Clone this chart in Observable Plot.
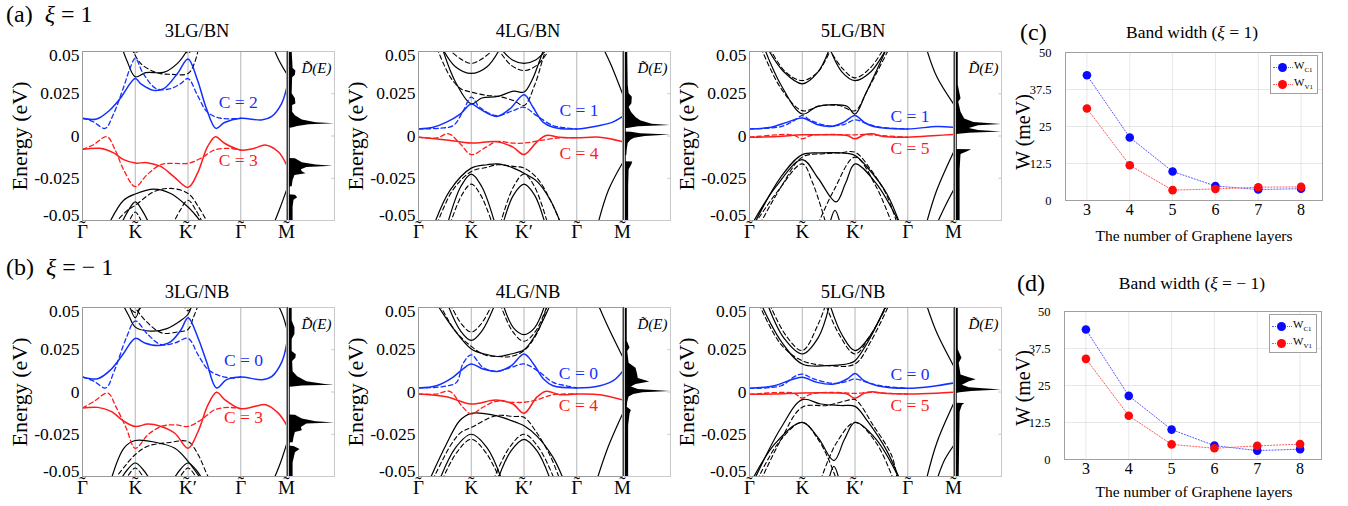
<!DOCTYPE html>
<html><head><meta charset="utf-8">
<script src="https://cdn.jsdelivr.net/npm/d3@7"></script>
<script src="https://cdn.jsdelivr.net/npm/@observablehq/plot@0.6"></script>
<style>
body{margin:0;background:#fff;font-family:"Liberation Serif","DejaVu Serif",serif;}
#fig{position:relative;width:1348px;height:506px;overflow:hidden;background:#fff;}
.abs{position:absolute;white-space:nowrap;line-height:1;color:#000;}
</style></head><body><div id="fig"></div>
<script>
// ---------------- DATA ----------------
// k-path positions and labels (each label carries a tilde line above the letter)
const kTicks = [0, 1, 2, 3, 3.866];
const kLabels = ["\u02DC\n\u0393", "\u02DC\nK", "\u02DC\u2009\nK\u2032", "\u02DC\n\u0393", "\u02DC\nM"];
const eTicks = [-0.05, -0.025, 0, 0.025, 0.05];

// ---- 3LG/BN (energies in meV, k along path) ----
const bn3Blue = [[0,10.5],[0.27,10.1],[0.52,15.4],[0.71,22],[1.0,34],[1.1,31],[1.35,27],[1.54,28],[1.8,37],[2.0,45.6],[2.18,33],[2.34,17],[2.53,4.5],[2.69,8],[3.0,10.5],[3.39,9.5],[3.58,11.4],[3.77,19],[3.866,28]];
const bn3BlueDash = [[0,10.5],[0.2,8.5],[0.43,4.5],[0.58,12.4],[0.78,29],[0.9,40],[1.0,46],[1.15,37],[1.4,28],[1.67,28],[1.86,31],[2.0,34],[2.18,24],[2.37,14],[2.62,10.5],[3.0,10.5]];
const bn3Red = [[0,-7.9],[0.33,-7.3],[0.59,-10],[0.78,-14],[1.0,-16],[1.22,-15.8],[1.48,-18],[1.73,-24],[2.0,-30.4],[2.18,-22],[2.37,-6.3],[2.52,-0.4],[2.69,-4.3],[3.0,-8.3],[3.26,-7.3],[3.46,-5.3],[3.71,-9.3],[3.866,-17]];
const bn3RedDash = [[0,-7.9],[0.2,-5.3],[0.46,-0.4],[0.62,-8.3],[0.78,-20],[1.0,-30],[1.22,-23],[1.48,-17],[1.73,-16.2],[2.0,-16.2],[2.24,-13.2],[2.5,-8.3],[2.75,-7.3],[3.0,-8.3]];
const bn3Black = [
  [[0.75,52],[0.85,44],[1.0,35],[1.2,37.5],[1.55,37.8],[1.8,43],[1.97,50],[2.05,55]],
  [[3.62,52],[3.72,45],[3.866,37]],
  [[0.5,-52],[0.78,-38],[1.0,-34.3],[1.35,-31.4],[1.67,-34],[2.0,-42],[2.12,-46],[2.3,-53]],
  [[0.72,-53],[0.87,-44],[1.0,-39],[1.13,-44],[1.28,-53]],
  [[3.65,-50],[3.75,-42],[3.866,-32]]
];
const bn3BlackDash = [
  [[0.93,52],[1.1,43],[1.4,37.5],[1.67,36.5],[2.0,37],[2.12,43],[2.2,52]],
  [[0.85,55],[1.0,49],[1.15,55]],
  [[1.85,55],[2.0,49],[2.15,55]],
  [[0.6,-52],[0.85,-44],[1.0,-41],[1.35,-33],[1.67,-31],[2.0,-34],[2.2,-42],[2.4,-53]],
  [[1.7,-53],[1.85,-44],[2.0,-38],[2.15,-44],[2.3,-53]],
  [[0.85,-53],[1.0,-45],[1.15,-53]]
];
const bn3Dos = [[50,0.08],[45,0.09],[40,0.1],[38.5,0.16],[36,0.15],[34.5,0.09],[25,0.08],[22,0.15],[19,0.16],[18,0.09],[14,0.09],[12,0.15],[9.5,0.3],[7.8,0.6],[7.2,1.0],[6.6,0.45],[5.6,0.2],[4.8,0.08],[4.6,0],[-13.3,0],[-13.5,0.15],[-15.8,0.3],[-17.2,0.6],[-17.9,0.97],[-18.6,0.4],[-20,0.28],[-21.2,0.3],[-22.4,0.38],[-23.4,0.14],[-26.4,0.1],[-30,0.08],[-30.2,0],[-34.8,0],[-35,0.15],[-36.5,0.2],[-38,0.12],[-42,0.1],[-50,0.1]];

// ---- 4LG/BN ----
const bn4Blue = [[0,4.2],[0.28,5.2],[0.53,8.2],[0.79,13],[1.0,19],[1.16,16],[1.48,11.5],[1.73,16],[2.0,24.4],[2.17,17],[2.36,8.2],[2.55,5.2],[3.0,4.2],[3.43,6.2],[3.68,8.2],[3.866,11.5]];
const bn4BlueDash = [[0,4.2],[0.41,4.6],[0.66,6.2],[0.85,15],[1.0,23],[1.16,17],[1.48,12],[1.79,15],[2.0,17],[2.24,12],[2.55,6.2],[2.8,4.8],[3.0,4.2]];
const bn4Red = [[0,-0.7],[0.53,-2.3],[1.0,-4.2],[1.48,-3.3],[1.79,-6.6],[2.0,-11],[2.24,-3.6],[2.42,0.3],[2.67,-0.7],[3.0,-1.1],[3.43,-0.7],[3.866,-3.3]];
const bn4RedDash = [[0,-0.7],[0.35,-1.1],[0.57,1.3],[0.79,-4.6],[1.0,-11],[1.28,-6.6],[1.48,-3.3],[1.79,-4.2],[2.0,-4.2],[2.3,-2.7],[2.67,-1.1],[3.0,-1.1]];
const bn4Black = [
  [[0.45,52],[0.7,32],[1.0,19],[1.2,22.5],[1.5,23.4],[1.8,26.5],[2.0,26],[2.15,33],[2.3,45],[2.38,52]],
  [[0.45,52],[0.7,41],[1.0,37],[1.3,41],[1.55,52]],
  [[1.55,52],[1.78,45],[2.0,43],[2.22,45],[2.45,52]],
  [[3.5,52],[3.65,42],[3.866,25]],
  [[0.3,-52],[0.6,-32],[1.0,-19],[1.3,-17],[1.5,-16.5],[1.8,-19],[2.0,-22],[2.25,-27],[2.5,-38],[2.7,-52]],
  [[0.55,-52],[0.8,-30],[1.0,-22.5],[1.2,-30],[1.45,-52]],
  [[1.6,-52],[1.8,-35],[2.0,-28.5],[2.2,-35],[2.4,-52]],
  [[3.4,-52],[3.6,-32],[3.866,-16]]
];
const bn4BlackDash = [
  [[0.35,52],[0.6,35],[0.8,28],[1.0,26],[1.3,24],[1.5,23.5],[1.8,21],[2.0,18],[2.2,30],[2.35,45],[2.42,52]],
  [[0.55,52],[0.78,46],[1.0,43],[1.22,46],[1.45,52]],
  [[1.5,52],[1.75,42],[2.0,38.7],[2.25,42],[2.5,52]],
  [[0.35,-52],[0.65,-32],[1.0,-21],[1.3,-18.5],[1.5,-17],[1.8,-18],[2.0,-19],[2.25,-25],[2.5,-38],[2.7,-52]],
  [[0.6,-52],[0.82,-35],[1.0,-28.5],[1.18,-35],[1.4,-52]],
  [[1.55,-52],[1.8,-30],[2.0,-22.5],[2.2,-30],[2.45,-52]]
];
const bn4Dos = [[50,0.07],[30,0.08],[25,0.1],[23,0.17],[19,0.16],[17,0.1],[14,0.15],[11,0.25],[9,0.35],[7,0.6],[6.2,1.0],[5.4,0.3],[4.6,0.1],[4.3,0],[2.4,0],[2.2,0.15],[1.4,0.35],[0.6,1.0],[-0.3,0.45],[-1.4,0.22],[-2.5,0.14],[-4.5,0.08],[-8,0.06],[-11.5,0.05],[-11.7,0],[-15.2,0],[-15.4,0.18],[-17,0.16],[-20,0.1],[-30,0.09],[-50,0.09]];

// ---- 5LG/BN ----
const bn5Blue = [[0,4.2],[0.41,5.2],[0.72,8.2],[1.0,10.7],[1.28,6.8],[1.54,5.6],[1.79,8.2],[2.0,12.1],[2.17,8.2],[2.35,5.6],[3.0,4.2],[3.54,5.6],[3.866,5.2]];
const bn5BlueDash = [[0,4.2],[0.6,5.6],[0.85,9.2],[1.0,12.1],[1.16,9.2],[1.47,6.2],[1.79,6.8],[2.0,9.6],[2.23,7.2],[2.48,5.2],[3.0,4.2]];
const bn5Red = [[0,-0.7],[0.53,-0.3],[1.0,0.7],[1.47,0.7],[1.85,0.3],[2.0,-1.7],[2.17,0.7],[2.32,1.3],[2.54,-0.3],[3.0,-0.7],[3.54,0.3],[3.866,0.9]];
const bn5RedDash = [[0,-0.7],[0.72,0.9],[0.85,0.3],[1.0,-1.7],[1.16,0.3],[1.47,0.9],[1.85,0.7],[2.0,0.7],[2.17,0.9],[2.6,0],[3.0,-0.7]];
const bn5Black = [
  [[0.34,52],[0.65,38],[1.0,30.9],[1.3,38],[1.52,52]],
  [[1.52,52],[1.75,38],[2.0,32.8],[2.3,38],[2.6,52]],
  [[0.28,52],[0.6,30],[1.0,13],[1.28,17.4],[1.6,18.6],[1.85,17.6],[2.0,13],[2.2,25],[2.5,45],[2.6,52]],
  [[3.35,52],[3.55,35],[3.866,19]],
  [[0.09,-52],[0.6,-24],[1.0,-11],[1.35,-10],[1.73,-10],[2.0,-11.5],[2.23,-18.5],[2.6,-34],[2.85,-52]],
  [[0.05,-52],[0.5,-30],[1.0,-14],[1.3,-25],[1.64,-39],[1.82,-28],[2.0,-16.5],[2.4,-28],[2.85,-52]],
  [[1.52,-52],[1.62,-44],[1.72,-52]],
  [[3.35,-52],[3.55,-32],[3.866,-9.6]],
  [[3.55,-52],[3.7,-42],[3.866,-32]]
];
const bn5BlackDash = [
  [[0.38,52],[0.68,38],[1.0,32.8],[1.3,38],[1.55,52]],
  [[1.5,52],[1.76,40],[2.0,34.4],[2.28,40],[2.55,52]],
  [[0.22,52],[0.6,28],[1.0,15],[1.35,18],[1.7,18],[2.0,15],[2.25,28],[2.65,52]],
  [[0.2,-52],[0.6,-30],[1.0,-12.5],[1.4,-10.5],[1.7,-10],[2.0,-9.6],[2.3,-20],[2.6,-35],[2.8,-52]],
  [[0.1,-52],[0.55,-32],[1.0,-16.5],[1.2,-28],[1.45,-52]],
  [[1.3,-52],[1.6,-32],[2.0,-12.5],[2.4,-30],[2.7,-52]]
];
const bn5Dos = [[50,0.06],[30,0.06],[22,0.12],[20,0.07],[14,0.12],[10,0.2],[8,0.4],[6.8,1.0],[6,0.5],[4.5,0.3],[3.2,0.5],[2.3,1.0],[1.6,0.3],[1,0.08],[0.8,0],[-8,0],[-8.2,0.35],[-9.5,0.25],[-11,0.12],[-20,0.1],[-50,0.1]];

// ---- 3LG/NB ----
const nb3Blue = [[0,8.9],[0.29,7.9],[0.54,13.3],[0.76,22],[1.0,31.7],[1.18,29],[1.43,27.5],[1.68,30],[1.87,37],[2.0,44],[2.19,32],[2.35,18],[2.54,2.4],[2.73,7.3],[3.0,8.9],[3.4,7.3],[3.59,9.3],[3.78,18],[3.866,28]];
const nb3BlueDash = [[0,8.9],[0.22,6.3],[0.44,2.4],[0.6,12.3],[0.83,32],[1.0,42],[1.24,34],[1.49,28],[1.75,29],[2.0,31.7],[2.19,22],[2.38,13.3],[2.63,9.3],[2.89,8.3],[3.0,8.9]];
const nb3Red = [[0,-9.5],[0.29,-9.1],[0.54,-11.5],[0.79,-17.4],[1.0,-20.4],[1.24,-19],[1.49,-20.4],[1.75,-24.4],[2.0,-33.3],[2.19,-23.4],[2.38,-7.5],[2.54,-0.2],[2.7,-4.6],[3.0,-9.9],[3.27,-8.5],[3.47,-7.5],[3.71,-12.5],[3.866,-19.4]];
const nb3RedDash = [[0,-9.5],[0.22,-5.5],[0.48,-0.6],[0.63,-8.5],[0.83,-21.4],[1.0,-33.3],[1.24,-25.3],[1.49,-20.4],[1.75,-19.4],[2.0,-20.4],[2.25,-16.4],[2.51,-10.5],[2.76,-9.1],[3.0,-9.9]];
const nb3Black = [
  [[0.76,52],[0.88,45],[1.0,38.4],[1.3,36],[1.6,37.5],[1.85,42],[2.0,46],[2.08,52]],
  [[0.88,52],[1.0,44],[1.1,52]],
  [[3.7,52],[3.8,45],[3.866,38]],
  [[0.54,-52],[0.79,-33],[1.0,-28.7],[1.37,-29.7],[1.75,-33.3],[2.0,-41],[2.19,-49],[2.3,-53]],
  [[0.7,-53],[0.85,-46],[1.0,-42],[1.15,-46],[1.3,-53]],
  [[1.7,-53],[1.85,-46],[2.0,-42],[2.15,-46],[2.3,-53]],
  [[3.62,-52],[3.75,-42],[3.866,-31]]
];
const nb3BlackDash = [
  [[0.95,52],[1.2,42],[1.5,35],[1.8,35.5],[2.0,37],[2.1,44],[2.2,52]],
  [[0.85,52],[1.0,47],[1.15,52]],
  [[1.9,52],[2.0,48],[2.1,52]],
  [[0.6,-52],[0.8,-44],[1.0,-37],[1.24,-32],[1.62,-30],[2.0,-29.3],[2.19,-37],[2.38,-50],[2.45,-53]],
  [[0.8,-53],[1.0,-45],[1.2,-53]],
  [[1.8,-53],[2.0,-45],[2.2,-53]]
];
const nb3Dos = [[50,0.08],[42,0.08],[38,0.14],[34,0.14],[31,0.08],[24,0.08],[22,0.17],[20,0.16],[18,0.09],[12,0.1],[9,0.2],[6,0.4],[4.5,0.8],[4,1.0],[3.5,0.3],[3,0.1],[2.8,0],[-13.6,0],[-13.8,0.15],[-16,0.3],[-17.6,0.6],[-18.3,1.0],[-19,0.4],[-21,0.28],[-23,0.3],[-24,0.15],[-27,0.12],[-30,0.1],[-30.2,0],[-32,0],[-32.2,0.12],[-34,0.25],[-36,0.15],[-42,0.1],[-50,0.1]];

// ---- 4LG/NB ----
const nb4Blue = [[0,2.4],[0.34,3.7],[0.65,8.7],[0.84,13.6],[1.0,16.6],[1.22,13.6],[1.5,12.2],[1.76,15.6],[2.0,22.5],[2.18,16.6],[2.37,7.7],[2.55,3.7],[3.0,2.4],[3.44,3.7],[3.69,6.7],[3.866,12.2]];
const nb4BlueDash = [[0,2.4],[0.46,3.2],[0.72,5.7],[0.84,16.6],[1.0,22],[1.22,14.6],[1.47,12.2],[1.76,14.6],[2.0,16.6],[2.3,11.6],[2.55,5.7],[2.8,3.7],[3.0,2.4]];
const nb4Red = [[0,-1.2],[0.53,-2.8],[1.0,-7.1],[1.47,-4.7],[1.79,-7.1],[2.0,-12.6],[2.24,-3.2],[2.42,0.4],[2.68,-1.6],[3.0,-1.2],[3.44,-1.6],[3.866,-4.7]];
const nb4RedDash = [[0,-1.2],[0.34,-1.2],[0.59,0.4],[0.84,-9],[1.0,-13],[1.22,-9],[1.47,-5.5],[1.79,-6.1],[2.0,-6.1],[2.24,-4.7],[2.55,-1.6],[3.0,-1.2]];
const nb4Black = [
  [[0.35,52],[0.65,38],[1.0,25.5],[1.25,22.5],[1.5,21],[1.75,22.5],[2.0,25],[2.2,33],[2.4,45],[2.5,52]],
  [[0.55,52],[0.8,36],[1.0,30.5],[1.2,36],[1.45,52]],
  [[1.6,52],[1.8,38],[2.0,34],[2.2,38],[2.4,52]],
  [[3.4,52],[3.6,38],[3.866,21]],
  [[0.21,-52],[0.53,-30.8],[0.78,-17],[1.0,-12.6],[1.47,-14],[1.85,-18],[2.0,-20],[2.24,-26],[2.55,-38.7],[2.75,-52]],
  [[0.4,-52],[0.7,-33],[1.0,-25],[1.3,-33],[1.58,-52]],
  [[1.5,-52],[1.75,-35],[2.0,-28],[2.25,-35],[2.5,-52]],
  [[3.38,-52],[3.6,-32],[3.866,-13]]
];
const nb4BlackDash = [
  [[0.4,52],[0.7,36],[1.0,27],[1.25,22],[1.5,21],[1.75,21],[2.0,24.5],[2.25,35],[2.45,52]],
  [[0.6,52],[0.82,40],[1.0,35.5],[1.18,40],[1.4,52]],
  [[1.55,52],[1.78,36],[2.0,30],[2.22,36],[2.45,52]],
  [[0.27,-52],[0.6,-32],[0.8,-24],[1.0,-21],[1.47,-14],[1.8,-14.5],[2.0,-15],[2.24,-24],[2.5,-38],[2.68,-52]],
  [[0.45,-52],[0.72,-36],[1.0,-28],[1.28,-36],[1.55,-52]],
  [[1.42,-52],[1.72,-33],[2.0,-25],[2.28,-33],[2.58,-52]]
];
const nb4Dos = [[50,0.06],[30,0.06],[26,0.12],[24,0.07],[17,0.1],[14,0.25],[11,0.28],[8,0.3],[5.9,0.55],[4.5,0.25],[3,0.15],[1.5,0.3],[0.3,1.0],[-0.5,0.4],[-1.5,0.2],[-3,0.1],[-6,0.07],[-9,0.06],[-11,0.15],[-13,0.12],[-20,0.09],[-50,0.09]];

// ---- 5LG/NB ----
const nb5Blue = [[0,2.2],[0.47,3.7],[0.78,7.1],[1.0,8.7],[1.28,5.7],[1.6,4.7],[1.85,7.7],[2.0,11],[2.17,6.7],[2.42,3.7],[3.0,2.2],[3.54,3.7],[3.866,5.3]];
const nb5BlueDash = [[0,2.2],[0.6,3.7],[0.85,9.1],[1.0,10.6],[1.22,7.7],[1.6,5.1],[1.85,6.3],[2.0,7.7],[2.23,5.7],[2.48,3.7],[3.0,2.2]];
const nb5Red = [[0,-1.4],[0.47,-1.2],[1.0,-0.6],[1.6,-0.6],[1.85,-1.2],[2.0,-3.7],[2.17,-0.8],[2.32,0.2],[2.54,-0.8],[3.0,-1.2],[3.54,-0.8],[3.866,-0.2]];
const nb5RedDash = [[0,-1.4],[0.66,-0.2],[0.85,-0.8],[1.0,-3.6],[1.16,-1.2],[1.6,-0.2],[2.0,-0.8],[2.3,-0.2],[2.6,-0.8],[3.0,-1.2]];
const nb5Black = [
  [[0.34,52],[0.65,32],[1.0,22.5],[1.3,32],[1.52,52]],
  [[1.52,52],[1.75,34],[2.0,24.5],[2.3,34],[2.6,52]],
  [[0.22,52],[0.6,30],[1.0,16.6],[1.47,15.6],[1.9,17],[2.0,18.5],[2.25,30],[2.6,52]],
  [[3.35,52],[3.55,35],[3.866,15.6]],
  [[0.09,-52],[0.6,-21],[1.0,-4.5],[1.35,-7.1],[1.73,-8],[2.0,-8.5],[2.23,-17],[2.6,-34.7],[2.85,-52]],
  [[0.05,-52],[0.5,-30],[1.0,-18],[1.3,-27],[1.6,-40.6],[1.8,-28],[2.0,-18],[2.4,-28],[2.85,-52]],
  [[1.5,-52],[1.6,-44],[1.7,-52]],
  [[3.35,-52],[3.55,-30],[3.866,-7]],
  [[3.55,-52],[3.7,-40],[3.866,-31.8]]
];
const nb5BlackDash = [
  [[0.38,52],[0.7,33],[1.0,24.5],[1.3,40],[1.48,55]],
  [[1.4,55],[1.7,34],[2.0,22.5],[2.3,34],[2.62,52]],
  [[0.18,52],[0.6,28],[1.0,18.5],[1.5,15.6],[2.0,16.6],[2.3,30],[2.65,52]],
  [[0.22,-52],[0.6,-28],[1.0,-9],[1.47,-8],[1.85,-5],[2.0,-4.5],[2.35,-20],[2.7,-38],[2.8,-52]],
  [[0.15,-52],[0.55,-30],[1.0,-18],[1.3,-28],[1.5,-40],[1.65,-52]],
  [[1.35,-52],[1.65,-30],[2.0,-18],[2.4,-30],[2.73,-52]]
];
const nb5Dos = [[50,0.06],[25,0.06],[20,0.14],[17,0.08],[10,0.12],[8.5,0.3],[7.3,0.45],[6,0.3],[4,0.15],[2.5,0.3],[1.2,1.0],[0.3,0.35],[-0.5,0.1],[-1,0],[-6.6,0],[-6.8,0.2],[-8,0.15],[-12,0.1],[-50,0.08]];

// Chern numbers
const chernBN = [["C = 2","C = 3"],["C = 1","C = 4"],["C = 1","C = 5"]];
const chernNB = [["C = 0","C = 3"],["C = 0","C = 4"],["C = 0","C = 5"]];

// Band widths (meV)
const layers = [3, 4, 5, 6, 7, 8];
const wC1_plus = [42.3, 21.3, 9.8, 4.9, 3.7, 4.0];
const wV1_plus = [31.1, 11.9, 3.5, 3.9, 4.5, 4.6];
const wC1_minus = [43.9, 21.5, 10.1, 4.7, 3.0, 3.5];
const wV1_minus = [34.0, 14.8, 5.1, 3.8, 4.6, 5.2];
const wTicks = [0, 12.5, 25, 37.5, 50];

// ---------------- RENDER ----------------
const BLUE = "#1230ff", RED = "#ff1c1c";
const FONT = '"Liberation Serif", "DejaVu Serif", serif';
const fig = document.getElementById("fig");
function place(node, left, top) {
  node.style.position = "absolute"; node.style.left = left + "px"; node.style.top = top + "px";
  fig.appendChild(node);
}
function txt(html, x, y, size, opt = {}) {
  const d = document.createElement("div");
  d.className = "abs"; d.innerHTML = html; d.style.fontSize = size + "px";
  d.style.left = x + "px"; d.style.top = y + "px";
  if (opt.color) d.style.color = opt.color;
  const tx = opt.left ? "0" : "-50%";
  d.style.transform = `translate(${tx},-50%)` + (opt.rotate ? " rotate(-90deg)" : "");
  fig.appendChild(d);
}
const rows = (arr) => arr.map(([k, e]) => ({k, e: e / 1000}));
const kMap = new Map(kTicks.map((t, i) => [t, kLabels[i]]));
const fmtE = (d) => d === 0 ? "0" : String(d);

const FW = 204, FH = 169, ML = 60, MT = 10, MB = 32;
function bandPanel(p, fx, fy) {
  const lineOpt = (stroke, w, dash) => ({x: "k", y: "e", stroke, strokeWidth: w, strokeDasharray: dash, curve: "catmull-rom", clip: true});
  const marks = [Plot.ruleX([1, 2, 3], {stroke: "#b4b4b4", strokeWidth: 1})];
  for (const c of p.blackDash) marks.push(Plot.line(rows(c), lineOpt("#000", 1.1, "4.5,3")));
  for (const c of p.black) marks.push(Plot.line(rows(c), lineOpt("#000", 1.2, null)));
  marks.push(Plot.line(rows(p.blueDash), lineOpt(BLUE, 1.3, "4.5,3")));
  marks.push(Plot.line(rows(p.redDash), lineOpt(RED, 1.3, "4.5,3")));
  marks.push(Plot.line(rows(p.blue), lineOpt(BLUE, 1.5, null)));
  marks.push(Plot.line(rows(p.red), lineOpt(RED, 1.5, null)));
  marks.push(Plot.text([0, 1], {x: () => p.ck, y: (d) => p.ce[d] / 1000, text: (d) => p.chern[d], fill: (d) => d ? RED : BLUE, fontSize: 17.5, fontFamily: FONT}));
  marks.push(Plot.frame({stroke: "#9a9a9a"}));
  // high-symmetry point labels (tilde line + letter)
  marks.push(Plot.text(kTicks, {x: (d) => d, frameAnchor: "bottom", lineAnchor: "top", lineHeight: 0.2, dy: 11, text: (d) => kMap.get(d), fontSize: 19, fontFamily: FONT}));
  marks.push(Plot.axisY(eTicks.slice(1, 4), {tickSize: 0, tickPadding: 3, fontSize: 17.5, tickFormat: fmtE, label: null}));
  marks.push(Plot.axisY([eTicks[4]], {tickSize: 0, tickPadding: 3, fontSize: 17.5, dy: 4, tickFormat: fmtE, label: null}));
  marks.push(Plot.axisY([eTicks[0]], {tickSize: 0, tickPadding: 3, fontSize: 17.5, dy: -5, tickFormat: fmtE, label: null}));
  const svg = Plot.plot({
    width: ML + FW + 1, height: MT + FH + MB,
    marginLeft: ML, marginRight: 1, marginTop: MT, marginBottom: MB,
    x: {domain: [0, 3.866], axis: null}, y: {domain: [-0.05, 0.05]},
    style: {fontFamily: FONT, background: "transparent", color: "#000", overflow: "visible"},
    marks
  });
  place(svg, fx - ML, fy - MT);
}
function dosPanel(dos, fx, fy) {
  const W = 46;
  const svg = Plot.plot({
    width: W + 2, height: FH + 2, marginLeft: 1, marginRight: 1, marginTop: 1, marginBottom: 1,
    x: {domain: [0, 1], axis: null}, y: {domain: [-0.05, 0.05], axis: null},
    style: {fontFamily: FONT, background: "transparent", overflow: "visible"},
    marks: [
      Plot.areaX(dos.map(([e, d]) => ({d, e: e / 1000})), {x: "d", y: "e", fill: "#000", curve: "linear"}),
      Plot.ruleX([0], {stroke: "#000", strokeWidth: 2.5}),
      Plot.ruleY([-0.025, 0, 0.025], {x1: 0.94, x2: 1, stroke: "#c8c8c8"}),
      Plot.frame({stroke: "#c8c8c8"}),
      Plot.text(["D\u0303(E)"], {frameAnchor: "top-right", textAnchor: "end", dx: -3, dy: 11, fontSize: 15, fontStyle: "italic", fontFamily: FONT})
    ]
  });
  place(svg, fx - 1, fy - 1);
}

const topY = 51, botY = 307;
const colX = [82, 418, 749];
const bnPanels = [
  {blue: bn3Blue, blueDash: bn3BlueDash, red: bn3Red, redDash: bn3RedDash, black: bn3Black, blackDash: bn3BlackDash, dos: bn3Dos, ck: 2.95, ce: [19.8, -14.5]},
  {blue: bn4Blue, blueDash: bn4BlueDash, red: bn4Red, redDash: bn4RedDash, black: bn4Black, blackDash: bn4BlackDash, dos: bn4Dos, ck: 3.04, ce: [15, -10.5]},
  {blue: bn5Blue, blueDash: bn5BlueDash, red: bn5Red, redDash: bn5RedDash, black: bn5Black, blackDash: bn5BlackDash, dos: bn5Dos, ck: 3.04, ce: [11.5, -7.5]}
];
const nbPanels = [
  {blue: nb3Blue, blueDash: nb3BlueDash, red: nb3Red, redDash: nb3RedDash, black: nb3Black, blackDash: nb3BlackDash, dos: nb3Dos, ck: 3.05, ce: [18.8, -14.8]},
  {blue: nb4Blue, blueDash: nb4BlueDash, red: nb4Red, redDash: nb4RedDash, black: nb4Black, blackDash: nb4BlackDash, dos: nb4Dos, ck: 3.03, ce: [10.9, -7.9]},
  {blue: nb5Blue, blueDash: nb5BlueDash, red: nb5Red, redDash: nb5RedDash, black: nb5Black, blackDash: nb5BlackDash, dos: nb5Dos, ck: 3.04, ce: [10.5, -7.9]}
];
const titlesBN = ["3LG/BN", "4LG/BN", "5LG/BN"], titlesNB = ["3LG/NB", "4LG/NB", "5LG/NB"];
const titleX = [197, 528, 853];
bnPanels.forEach((p, i) => {
  p.chern = chernBN[i];
  bandPanel(p, colX[i], topY); dosPanel(p.dos, colX[i] + FW + 2, topY);
  txt(titlesBN[i], titleX[i], 31, 18.5);
  txt("Energy (eV)", colX[i] - 62, topY + FH / 2, 22, {rotate: true});
});
nbPanels.forEach((p, i) => {
  p.chern = chernNB[i];
  bandPanel(p, colX[i], botY); dosPanel(p.dos, colX[i] + FW + 2, botY);
  txt(titlesNB[i], titleX[i], 292, 18.5);
  txt("Energy (eV)", colX[i] - 62, botY + FH / 2, 22, {rotate: true});
});
txt("(a)&nbsp;&nbsp;<i>\u03BE</i> = 1", 6, 14, 24, {left: true});
txt("(b)&nbsp;&nbsp;<i>\u03BE</i> = \u2212 1", 6, 267, 24, {left: true});

// band width panels
function widthPanel(wc, wv, fx, fy) {
  const fw = 257, fh = 148;
  const dC = layers.map((n, i) => ({n, w: wc[i]}));
  const dV = layers.map((n, i) => ({n, w: wv[i]}));
  const svg = Plot.plot({
    width: 60 + fw + 4, height: 10 + fh + 30,
    marginLeft: 60, marginRight: 4, marginTop: 10, marginBottom: 30,
    x: {domain: [2.5, 8.5]}, y: {domain: [0, 50]},
    style: {fontFamily: FONT, background: "transparent", color: "#000", overflow: "visible"},
    marks: [
      Plot.gridX(layers, {stroke: "#000", strokeOpacity: 0.09}),
      Plot.gridY(wTicks, {stroke: "#000", strokeOpacity: 0.09}),
      Plot.frame({stroke: "#a0a0a0"}),
      Plot.line(dC, {x: "n", y: "w", stroke: "#5a5aff", strokeWidth: 1, strokeDasharray: "1.2,1.8"}),
      Plot.line(dV, {x: "n", y: "w", stroke: "#ff5a5a", strokeWidth: 1, strokeDasharray: "1.2,1.8"}),
      Plot.dot(dC, {x: "n", y: "w", fill: "#0a0aff", r: 4.3}),
      Plot.dot(dV, {x: "n", y: "w", fill: "#ff0a0a", r: 4.3}),
      Plot.axisX(layers, {tickSize: 0, tickPadding: 3, fontSize: 16, label: null}),
      Plot.axisY(wTicks, {tickSize: 0, tickPadding: 14, fontSize: 12.5, tickFormat: (d) => String(d), label: null})
    ]
  });
  place(svg, fx - 60, fy - 10);
  // legend
  const lg = document.createElement("div");
  lg.className = "abs";
  lg.style.cssText += `left:${fx + 205}px;top:${fy + 3}px;width:46px;height:37px;border:1px solid #a0a0a0;background:#fff;`;
  const entries = [["C1", "#0a0aff", "#5a5aff"], ["V1", "#ff0a0a", "#ff5a5a"]];
  entries.forEach(([s, c, lc], i) => {
    const cy = 11 + i * 17;
    lg.innerHTML += `<div style="position:absolute;left:2px;top:${cy}px;width:20px;border-top:1px dotted ${lc}"></div>`
      + `<div style="position:absolute;left:7px;top:${cy - 4}px;width:9px;height:9px;border-radius:50%;background:${c}"></div>`
      + `<div style="position:absolute;left:23px;top:${cy - 7}px;font-size:11px;line-height:1">W<sub style="font-size:7px">${s}</sub></div>`;
  });
  fig.appendChild(lg);
}
widthPanel(wC1_plus, wV1_plus, 1065, 52);
widthPanel(wC1_minus, wV1_minus, 1064, 311);
txt("(c)", 1020, 32, 24, {left: true});
txt("(d)", 1017, 283, 24, {left: true});
txt("Band width (<i>\u03BE</i> = 1)", 1192, 33, 17.5);
txt("Band width (<i>\u03BE</i> = \u2212 1)", 1192, 284, 17.5);
txt("W (meV)", 1023, 132, 20, {rotate: true});
txt("W (meV)", 1023, 388, 20, {rotate: true});
txt("The number of Graphene layers", 1194, 236, 15.5);
txt("The number of Graphene layers", 1194, 492, 15.5);
</script></body></html>
